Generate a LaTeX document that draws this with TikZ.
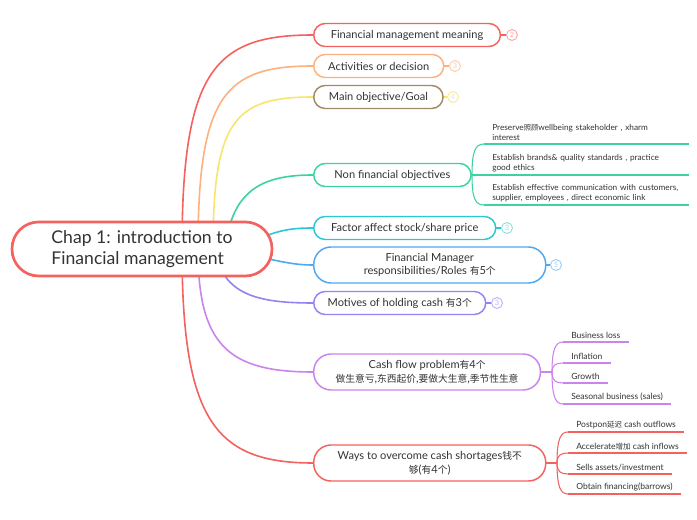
\documentclass[tikz,border=0pt]{standalone}
\usepackage{fontspec}
\setmainfont{Lato}
\newfontfamily\cjk[Scale=0.88]{Noto Sans CJK SC}
\usetikzlibrary{backgrounds,calc}
\hyphenpenalty=10000

\definecolor{ink}{HTML}{333333}
\definecolor{cred}{HTML}{F4625F}
\definecolor{cred2}{HTML}{F7A9A7}
\definecolor{corange}{HTML}{FDB17F}
\definecolor{corange2}{HTML}{FCCCAA}
\definecolor{cyellow}{HTML}{F8E56C}
\definecolor{cyellow2}{HTML}{F8EA92}
\definecolor{cbrown}{HTML}{A08B67}
\definecolor{cgreen}{HTML}{3DD3A0}
\definecolor{ccyan}{HTML}{2BC9D2}
\definecolor{ccyan2}{HTML}{8EDFE4}
\definecolor{cblue}{HTML}{4FA8F2}
\definecolor{cblue2}{HTML}{9ECDF6}
\definecolor{cpurple}{HTML}{9284F2}
\definecolor{cpurple2}{HTML}{BDB4F8}
\definecolor{cviolet}{HTML}{CB84EC}

\begin{document}
\begin{tikzpicture}[x=0.75pt,y=-0.75pt,
  every node/.style={text=ink},
  root/.style={draw=cred, line width=2pt, fill=white, rounded corners=20pt,
    minimum width=195pt, minimum height=40.5pt, align=left,
    font=\fontsize{13.2}{15.5}\selectfont},
  topic/.style={draw, fill=white, line width=1.1pt, rounded corners=8.6pt,
    minimum height=17.25pt, anchor=west, align=center,
    font=\fontsize{8.3}{10.3}\selectfont},
  tall/.style={rounded corners=13pt, minimum height=27pt},
  badge/.style={circle, draw, fill=white, line width=0.7pt, minimum size=8.2pt,
    inner sep=0pt, font=\fontsize{5.5}{6}\selectfont},
  leaf/.style={anchor=south west, inner xsep=6pt, inner ysep=2pt, align=left,
    font=\fontsize{6.4}{7.8}\selectfont},
  wide/.style={text width=141pt, font=\fontsize{6.2}{7.8}\selectfont},
  branch/.style={line width=1.2pt},
  twig/.style={line width=0.8pt}
]
\useasboundingbox (0,0) rectangle (697,520);

% Root
\node[root] (chap) at (142,249) {Chap 1: introduction to\\Financial management};

% Topics
\node[topic, draw=cred, minimum width=140pt] (meaning) at (313,35) {Financial management meaning};
\node[topic, draw=corange, minimum width=97.5pt] (activ) at (313,66) {Activities or decision};
\node[topic, draw=cbrown, minimum width=97pt] (goal) at (313,97) {Main objective/Goal};
\node[topic, draw=cgreen, minimum width=118pt] (nonfin) at (313,175) {Non financial objectives};
\node[topic, draw=ccyan, minimum width=136.5pt] (factor) at (313,228) {Factor affect stock/share price};
\node[topic, tall, draw=cblue, minimum width=174pt] (roles) at (313,265)
  {Financial Manager\\responsibilities/Roles {\cjk 有}5{\cjk 个}};
\node[topic, draw=cpurple, minimum width=129pt] (motives) at (313,303) {Motives of holding cash {\cjk 有}3{\cjk 个}};
\node[topic, tall, draw=cviolet, minimum width=170pt] (cashflow) at (313,372)
  {Cash flow problem{\cjk 有}4{\cjk 个}\\{\cjk 做生意亏},{\cjk 东西起价},{\cjk 要做大生意},{\cjk 季节性生意}};
\node[topic, tall, draw=cred, minimum width=174pt] (ways) at (313,463)
  {Ways to overcome cash shortages{\cjk 钱不}\\{\cjk 够}({\cjk 有}4{\cjk 个})};

% Badges
\node[badge, draw=cred2, text=cred2] (b1) at (512,35) {2};
\node[badge, draw=corange2, text=corange2] (b2) at (455,66) {3};
\node[badge, draw=cyellow2, text=cyellow2] (b3) at (453,97) {4};
\node[badge, draw=ccyan2, text=ccyan2] (b5) at (507,228) {3};
\node[badge, draw=cblue2, text=cblue2] (b6) at (556,265) {5};
\node[badge, draw=cpurple2, text=cpurple2] (b7) at (497,303) {3};
\draw[twig, cred] (meaning.east) -- (b1);
\draw[twig, corange] (activ.east) -- (b2);
\draw[twig, cyellow] (goal.east) -- (b3);
\draw[twig, ccyan] (factor.east) -- (b5);
\draw[twig, cblue] (roles.east) -- (b6);
\draw[twig, cpurple] (motives.east) -- (b7);

% Non financial objectives
\coordinate (j4) at (472,175);
\node[leaf, wide] (care) at (484,144) {Preserve{\cjk 照顾}wellbeing stakeholder , xharm\\interest};
\node[leaf, wide] (brand) at (484,175) {Establish brands\& quality standards , practice\\good ethics};
\node[leaf, wide] (comm) at (484,205) {Establish effective communication with customers,\\supplier, employees , direct economic link};
\draw[twig, cgreen] (nonfin.east) -- (j4);
\draw[twig, cgreen] (j4) .. controls (472,152) and (475,144) .. (care.south west);
\draw[twig, cgreen] (j4) -- (brand.south west);
\draw[twig, cgreen] (j4) .. controls (472,198) and (475,205) .. (comm.south west);
\foreach \n in {care,brand,comm}
  \draw[twig, cgreen] (\n.south west) -- (\n.south east);

% Cash flow problem
\coordinate (j8) at (552,372);
\node[leaf] (loss) at (563,342) {Business loss};
\node[leaf] (infl) at (563,363) {Inflation};
\node[leaf] (grow) at (563,383) {Growth};
\node[leaf] (season) at (563,404) {Seasonal business (sales)};
\draw[twig, cviolet] (cashflow.east) -- (j8);
\draw[twig, cviolet] (j8) .. controls (552,348) and (556,342) .. (loss.south west);
\draw[twig, cviolet] (j8) .. controls (552,365) and (556,363) .. (infl.south west);
\draw[twig, cviolet] (j8) .. controls (552,381) and (556,383) .. (grow.south west);
\draw[twig, cviolet] (j8) .. controls (552,398) and (556,404) .. (season.south west);
\foreach \n in {loss,infl,grow,season}
  \draw[twig, cviolet] (\n.south west) -- (\n.south east);

% Ways to overcome cash shortages
\coordinate (j9) at (557,463);
\node[leaf] (postpon) at (568,432) {Postpon{\cjk 延迟} cash outflows};
\node[leaf] (accel) at (568,453) {Accelerate{\cjk 增加} cash inflows};
\node[leaf] (sells) at (568,474) {Sells assets/investment};
\node[leaf] (obtain) at (568,494) {Obtain financing(barrows)};
\draw[twig, cred] (ways.east) -- (j9);
\draw[twig, cred] (j9) .. controls (557,438) and (561,432) .. (postpon.south west);
\draw[twig, cred] (j9) .. controls (557,455) and (561,453) .. (accel.south west);
\draw[twig, cred] (j9) .. controls (557,472) and (561,474) .. (sells.south west);
\draw[twig, cred] (j9) .. controls (557,488) and (561,494) .. (obtain.south west);
\foreach \n in {postpon,accel,sells,obtain}
  \draw[twig, cred] (\n.south west) -- (\n.south east);

% Branches from the root
\begin{scope}[on background layer]
\fill[white] (0,0) rectangle (697,520);
\draw[branch, cred] ($(chap.center)+(40,0)$) .. controls (182,70) and (215,35) .. (meaning.west);
\draw[branch, corange] ($(chap.center)+(56,0)$) .. controls (198,95) and (225,66) .. (activ.west);
\draw[branch, cyellow] ($(chap.center)+(71,0)$) .. controls (213,120) and (235,97) .. (goal.west);
\draw[branch, cgreen] ($(chap.center)+(83,0)$) .. controls (232,190) and (262,175) .. (nonfin.west);
\draw[branch, ccyan] ($(chap.center)+(98,0)$) .. controls (272,230) and (290,228) .. (factor.west);
\draw[branch, cblue] ($(chap.center)+(98,3)$) .. controls (280,262) and (295,265) .. (roles.west);
\draw[branch, cpurple] ($(chap.center)+(73,0)$) .. controls (222,295) and (258,303) .. (motives.west);
\draw[branch, cviolet] ($(chap.center)+(56,0)$) .. controls (198,345) and (228,372) .. (cashflow.west);
\draw[branch, cred] ($(chap.center)+(40,0)$) .. controls (182,420) and (215,463) .. (ways.west);
\end{scope}
\end{tikzpicture}
\end{document}
